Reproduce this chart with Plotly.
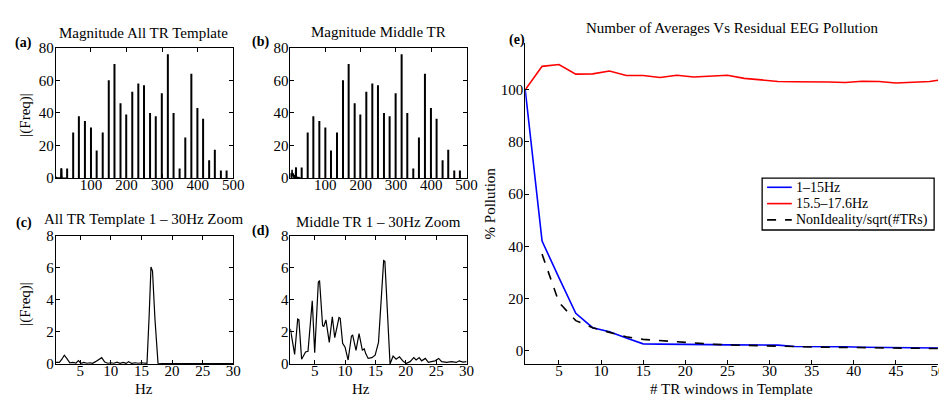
import plotly.graph_objects as go

W, H = 947, 396
FONT = "Liberation Serif, Times New Roman, serif"

# ---------------- data ----------------
harm_freq = [17, 33, 50, 66, 83, 100, 116, 133, 150, 166, 183, 199, 216, 233, 249,
             266, 282, 299, 316, 332, 349, 365, 382, 399, 415, 432, 448, 465, 481]
mag_all_tr = [6, 6, 28, 38, 35, 31, 17, 28, 60, 70, 46, 39, 53, 58, 57,
              40, 38, 52, 76, 40, 6, 25, 64, 43, 36.5, 11, 17.5, 4.7, 4.7]
mag_middle_tr = [6.5, 6.5, 28, 38, 35, 31, 17, 28, 60, 70, 46, 39, 53, 58, 57,
                 40, 38, 52, 76, 40, 6, 25, 64, 43, 36.5, 11, 17.5, 4.7, 4.7]

c_hz = [1.0, 1.6, 2.0, 2.4, 2.8, 3.3, 3.8, 4.3, 4.7, 5.1, 5.6, 6.1, 6.6, 7.0, 7.5,
        8.0, 8.5, 9.0, 9.5, 10.0, 10.5, 11.0, 11.5, 12.0, 12.5, 12.9, 13.4, 14.0,
        14.5, 15.0, 15.5, 15.9, 16.25, 16.55, 16.8, 17.2, 17.7, 18.3, 19.0, 20.0,
        21.0, 22.0, 23.0, 24.0, 25.0, 26.0, 27.0, 28.0, 29.0, 30.0]
c_mag = [0.1, 0.1, 0.3, 0.55, 0.35, 0.08, 0.1, 0.06, 0.22, 0.05, 0.1, 0.05, 0.08,
         0.05, 0.15, 0.25, 0.4, 0.12, 0.05, 0.08, 0.05, 0.12, 0.05, 0.1, 0.04, 0.15,
         0.04, 0.08, 0.05, 0.08, 0.05, 0.05, 3.0, 6.05, 5.8, 2.8, 0.05, 0.03, 0.03,
         0.03, 0.03, 0.03, 0.03, 0.03, 0.03, 0.03, 0.03, 0.03, 0.03, 0.03]

d_hz = [1.0, 1.7, 2.2, 2.4, 2.85, 3.5, 3.9, 4.6, 5.0, 5.6, 5.8, 6.3, 6.5, 6.85, 7.4,
        7.9, 8.3, 9.0, 9.2, 9.6, 10.0, 10.5, 11.05, 11.25, 11.8, 12.3, 12.85, 13.15,
        13.4, 13.8, 14.4, 14.95, 15.5, 16.35, 16.55, 17.1, 17.4, 17.9, 18.4, 18.95,
        19.6, 20.1, 20.7, 21.3, 21.7, 22.2, 22.6, 23.2, 23.7, 24.2, 24.8, 25.4, 25.9,
        26.7, 27.5, 28.3, 28.8, 29.4, 30.0]
d_mag = [2.2, 0.6, 2.8, 2.75, 0.3, 0.75, 0.8, 3.95, 0.7, 5.1, 5.2, 2.4, 2.35, 2.75,
         1.35, 2.95, 1.65, 2.9, 2.85, 1.3, 1.05, 0.25, 1.75, 1.8, 0.85, 1.9, 0.85,
         0.95, 0.65, 0.35, 0.4, 0.55, 1.35, 6.45, 6.4, 1.75, 0.0, 0.5, 0.3, 0.45,
         0.15, 0.05, 0.15, 0.4, 0.25, 0.4, 0.2, 0.35, 0.1, 0.15, 0.2, 0.35, 0.15,
         0.1, 0.15, 0.1, 0.2, 0.12, 0.15]

n_tr = [1, 3, 5, 7, 9, 11, 13, 15, 17, 19, 21, 23, 25, 27, 29, 31, 33, 35, 37, 39,
        41, 43, 45, 47, 49, 50]
poll_1_15 = [100, 42, 28, 14.3, 8.8, 7.2, 4.8, 2.6, 2.5, 2.5, 2.4, 2.3, 2.2, 2.2,
             2.1, 2.1, 1.6, 1.6, 1.7, 1.5, 1.3, 1.2, 1.2, 1.1, 1.1, 1.0]
poll_15_17 = [100, 109, 109.7, 106, 106.1, 107.2, 105.5, 105.5, 104.7, 105.6, 104.9,
              105.2, 105.6, 104.4, 103.9, 103.2, 103.1, 103.1, 103.0, 102.8, 103.3,
              103.2, 102.6, 102.9, 103.2, 103.7]
n_tr_ideal = n_tr[1:]
nonideality = [37, 18.5, 11.5, 8.8, 7.0, 5.3, 4.3, 3.8, 3.3, 2.9, 2.5, 2.2, 2.0,
               1.8, 1.6, 1.5, 1.4, 1.3, 1.2, 1.1, 1.0, 1.0, 0.9, 0.8, 0.8]

series_names = ["1\u201315Hz", "15.5\u201317.6Hz", "NonIdeality/sqrt(#TRs)"]
series_colors = ["#0000ff", "#ff0000", "black"]
series_dash = ["solid", "solid", "dash"]

# ---------------- helpers ----------------
def px_x(p):
    return p / W

def px_y(p):
    return 1 - p / H

def stems(xs, ys):
    sx, sy = [], []
    for x, y in zip(xs, ys):
        sx += [x, x, None]
        sy += [0, y, None]
    return sx, sy

fig = go.Figure()

# (a)
sx, sy = stems(harm_freq, mag_all_tr)
fig.add_trace(go.Scatter(x=sx, y=sy, mode="lines", line=dict(color="black", width=2),
                         xaxis="x", yaxis="y", showlegend=False))
fig.add_trace(go.Scatter(x=c_hz, y=c_mag, mode="lines", line=dict(color="black", width=1.5),
                         xaxis="x", yaxis="y", showlegend=False))
# (b)
sx, sy = stems(harm_freq, mag_middle_tr)
fig.add_trace(go.Scatter(x=sx, y=sy, mode="lines", line=dict(color="black", width=2),
                         xaxis="x2", yaxis="y2", showlegend=False))
fig.add_trace(go.Scatter(x=d_hz, y=d_mag, mode="lines", line=dict(color="black", width=1.5),
                         xaxis="x2", yaxis="y2", showlegend=False))
# (c)
fig.add_trace(go.Scatter(x=c_hz, y=c_mag, mode="lines", line=dict(color="black", width=1.2),
                         xaxis="x3", yaxis="y3", showlegend=False))
# (d)
fig.add_trace(go.Scatter(x=d_hz, y=d_mag, mode="lines", line=dict(color="black", width=1.2),
                         xaxis="x4", yaxis="y4", showlegend=False))
# (e)
for xs, ys, nm, col, dsh in zip([n_tr, n_tr, n_tr_ideal],
                                [poll_1_15, poll_15_17, nonideality],
                                series_names, series_colors, series_dash):
    fig.add_trace(go.Scatter(x=xs, y=ys, mode="lines", name=nm,
                             line=dict(color=col, width=1.6, dash=dsh),
                             xaxis="x5", yaxis="y5", showlegend=False))

tickfont = dict(family=FONT, size=15, color="black")

def ax(domain, rng, tickvals, anchor, mirror=True, standoff=0):
    return dict(domain=domain, range=rng, tickvals=tickvals, anchor=anchor,
                showline=True, linecolor="black", linewidth=1, mirror="ticks" if mirror else False,
                ticks="inside", ticklen=4, tickcolor="black", showgrid=False,
                zeroline=False, tickfont=tickfont, fixedrange=True,
                ticklabelstandoff=standoff)

xa = [px_x(48.3), px_x(228)]
xb = [px_x(285.7), px_x(464)]
ytop = [px_y(169), px_y(33)]
ybot = [px_y(362.7), px_y(229)]
XS, YS = -7, -2

fig.update_layout(
    width=W, height=H, margin=dict(l=0, r=0, t=0, b=0),
    paper_bgcolor="white", plot_bgcolor="white", showlegend=False,
    font=dict(family=FONT, size=15, color="black"),
    xaxis=ax(xa, [1, 500], [100, 200, 300, 400, 500], "y", standoff=XS),
    yaxis=ax(ytop, [0, 80], [0, 20, 40, 60, 80], "x", standoff=YS),
    xaxis2=ax(xb, [1, 500], [100, 200, 300, 400, 500], "y2", standoff=XS),
    yaxis2=ax(ytop, [0, 80], [0, 20, 40, 60, 80], "x2", standoff=YS),
    xaxis3=ax(xa, [1, 30], [5, 10, 15, 20, 25, 30], "y3", standoff=XS),
    yaxis3=ax(ybot, [0, 8], [0, 2, 4, 6, 8], "x3", standoff=YS),
    xaxis4=ax(xb, [1, 30], [5, 10, 15, 20, 25, 30], "y4", standoff=XS),
    yaxis4=ax(ybot, [0, 8], [0, 2, 4, 6, 8], "x4", standoff=YS),
    xaxis5=ax([px_x(523.3), px_x(941)], [1, 50], [5, 10, 15, 20, 25, 30, 35, 40, 45, 50],
              "y5", mirror=False, standoff=XS),
    yaxis5=ax([px_y(362.3), px_y(28)], [-5, 118], [0, 20, 40, 60, 80, 100], "x5",
              mirror=False, standoff=YS),
)

ann = []
def text(x, y, s, size=15, bold=False, angle=0, xanchor="center"):
    if bold:
        s = "<b>" + s + "</b>"
    ann.append(dict(x=px_x(x), y=px_y(y), xref="paper", yref="paper", text=s,
                    showarrow=False, xanchor=xanchor, yanchor="middle", textangle=angle,
                    font=dict(family=FONT, size=size, color="black")))

text(137, 18, "Magnitude All TR Template")
text(375, 17, "Magnitude Middle TR")
text(138, 212, "All TR Template 1 \u2013 30Hz Zoom")
text(375, 215, "Middle TR 1 \u2013 30Hz Zoom")
text(733, 12, "Number of Averages Vs Residual EEG Pollution")
text(16, 28, "(a)", size=14, bold=True)
text(255, 27, "(b)", size=14, bold=True)
text(16, 216, "(c)", size=14, bold=True)
text(255, 224, "(d)", size=14, bold=True)
text(515, 25, "(e)", size=14, bold=True)
text(18, 103, "|(Freq)|", angle=-90)
text(18, 300, "|(Freq)|", angle=-90)
text(138, 389, "Hz")
text(357, 389, "Hz")
text(488, 195, "% Pollution", angle=-90)
text(732, 389, "# TR windows in Template")

# legend box (drawn in paper coordinates)
shapes = [dict(type="rect", xref="paper", yref="paper",
               x0=px_x(763), x1=px_x(937), y0=px_y(223), y1=px_y(169),
               line=dict(color="black", width=1.3), fillcolor="white", layer="above")]
for i, (nm, col, dsh) in enumerate(zip(series_names, series_colors, series_dash)):
    yy = 178.5 + 17 * i
    shapes.append(dict(type="line", xref="paper", yref="paper",
                       x0=px_x(768), x1=px_x(793), y0=px_y(yy), y1=px_y(yy),
                       line=dict(color=col, width=1.6, dash=dsh), layer="above"))
    text(795, yy, nm, size=14, xanchor="left")

fig.update_layout(annotations=ann, shapes=shapes)

fig.write_html("out.html")
